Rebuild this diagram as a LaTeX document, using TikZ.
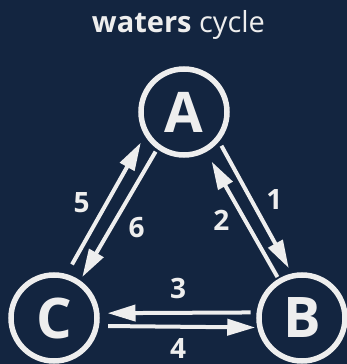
\documentclass[tikz,border=0pt]{standalone}
\usepackage{fontspec}
\setmainfont{Open Sans}
\usetikzlibrary{arrows.meta}
\usetikzlibrary{positioning}
\definecolor{navy}{RGB}{19,37,64}
\definecolor{chalk}{RGB}{238,238,238}

\begin{document}
\begin{tikzpicture}[x=1pt, y=1pt,
	station/.style={draw=chalk, circle, line width=5.5pt, minimum size=86pt, inner sep=0pt, text=chalk, font=\fontsize{56}{56}\selectfont\bfseries},
	flow/.style={draw=chalk, line width=4pt, -{Triangle[length=28pt, width=16pt]}},
	num/.style={text=chalk, inner sep=1pt, font=\fontsize{28}{28}\selectfont\bfseries}]

	\fill[navy] (0,0) rectangle (347,364);
	\useasboundingbox (0,0) rectangle (347,364);

	\node [text=chalk, anchor=base, font=\fontsize{29}{29}\selectfont] at (178.5,331) (title){\textbf{waters} cycle};

	% stations
	\node [station] at (184,252) (A){A};
	\node [station] at (302,46) (B){B};
	\node [station] at (54,46) (C){C};

	% A <-> B
	\draw [flow, shorten <=5pt, shorten >=6pt] (A.-40) -- (B.103) node[num, midway, xshift=19pt, yshift=8pt] (n1){1};
	\draw [flow, shorten <=2pt, shorten >=11pt] (B.121) -- (A.-61) node[num, midway, xshift=-21pt, yshift=-5pt] (n2){2};

	% B <-> C
	\draw [flow, shorten <=6pt, shorten >=8pt] (B.173) -- (C.6) node[num, midway, yshift=24pt] (n3){3};
	\draw [flow, shorten <=9pt, shorten >=2pt] (C.-10) -- (B.-168) node[num, midway, yshift=-22pt] (n4){4};

	% C <-> A
	\draw [flow, shorten <=11pt, shorten >=8pt] (C.74) -- (A.-149) node[num, midway, xshift=-24pt, yshift=2pt] (n5){5};
	\draw [flow, shorten <=3pt, shorten >=4pt] (A.-126) -- (C.55) node[num, midway, xshift=18pt, yshift=-13pt] (n6){6};

\end{tikzpicture}
\end{document}
